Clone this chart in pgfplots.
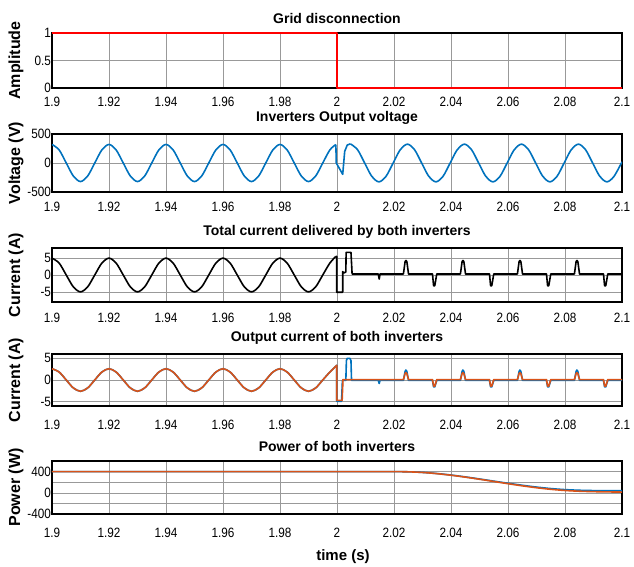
\documentclass[border=0pt]{standalone}
\usepackage{fontspec}
\setmainfont{Liberation Sans}
\newfontfamily\ticksfont[FakeStretch=0.87]{Liberation Sans}
\usepackage{pgfplots}
\pgfplotsset{compat=1.18}
\definecolor{mblue}{RGB}{0,114,189}
\definecolor{morange}{RGB}{217,83,25}

\pgfplotsset{
  panel/.style={
    scale only axis, width=570pt, anchor=north west,
    xmin=1.9, xmax=2.1,
    xtick={1.9,1.92,1.94,1.96,1.98,2,2.02,2.04,2.06,2.08,2.1},
    xticklabels={1.9,1.92,1.94,1.96,1.98,2,2.02,2.04,2.06,2.08,2.1},
    grid=major, major grid style={line width=0.6pt, black!40},
    axis line style={line width=1.4pt},
    major tick length=0pt,
    tick label style={font=\ticksfont\fontsize{13.5}{13.5}\selectfont},
    yticklabel style={xshift=2.5pt},
    /pgf/number format/assume math mode=true,
    title style={font=\bfseries\fontsize{14}{14}\selectfont},
    every axis y label/.style={at={(axis description cs:-0.063,0.5)}, rotate=90,
      anchor=center, font=\bfseries\fontsize{16}{16}\selectfont},
    every axis plot/.append style={line width=1.6pt, line join=round},
  },
}

\begin{document}
\begin{tikzpicture}
\useasboundingbox (0,0) rectangle (634pt,-567pt);

% grid disconnection signal
\begin{axis}[panel, at={(52pt,-33pt)}, height=55pt,
  ymin=0, ymax=1, ytick={0,0.5,1}, yticklabels={0,0.5,1},
  clip=false, xticklabel style={yshift=-6pt},
  title={Grid disconnection}, ylabel={Amplitude}]
\addplot[red] coordinates {(1.9,1)(2.0,1)(2.0,0)(2.1,0)};
\end{axis}

% inverter output voltage
\begin{axis}[panel, at={(52pt,-134pt)}, height=58pt,
  ymin=-500, ymax=500, ytick={-500,0,500}, yticklabels={-500,0,500},
  xticklabel style={yshift=-6.5pt},
  title={Inverters Output voltage}, ylabel={Voltage (V)}]
\addplot[mblue, smooth] coordinates {
(1.9,320)(1.9025,226)(1.905,0)(1.9075,-226)(1.91,-320)(1.9125,-226)(1.915,0)(1.9175,226)
(1.92,320)(1.9225,226)(1.925,0)(1.9275,-226)(1.93,-320)(1.9325,-226)(1.935,0)(1.9375,226)
(1.94,320)(1.9425,226)(1.945,0)(1.9475,-226)(1.95,-320)(1.9525,-226)(1.955,0)(1.9575,226)
(1.96,320)(1.9625,226)(1.965,0)(1.9675,-226)(1.97,-320)(1.9725,-226)(1.975,0)(1.9775,226)
(1.98,320)(1.9825,226)(1.985,0)(1.9875,-226)(1.99,-320)(1.9925,-226)(1.995,0)(1.9975,226)(1.9996,318)};
\addplot[mblue] coordinates {
(1.9996,318)(1.99975,0)(2.002,-195)(2.0027,200)(2.0036,310)(2.0047,330)};
\addplot[mblue, smooth] coordinates {
(2.0047,330)(2.0072,230)(2.0097,0)(2.0122,-230)(2.0147,-325)(2.0172,-230)(2.0197,0)(2.0222,230)
(2.0247,325)(2.0272,230)(2.0297,0)(2.0322,-230)(2.0347,-325)(2.0372,-230)(2.0397,0)(2.0422,230)
(2.0447,325)(2.0472,230)(2.0497,0)(2.0522,-230)(2.0547,-325)(2.0572,-230)(2.0597,0)(2.0622,230)
(2.0647,325)(2.0672,230)(2.0697,0)(2.0722,-230)(2.0747,-325)(2.0772,-230)(2.0797,0)(2.0822,230)
(2.0847,325)(2.0872,230)(2.0897,0)(2.0922,-230)(2.0947,-325)(2.0972,-230)(2.1,20)};
\end{axis}

% total current
\begin{axis}[panel, at={(52pt,-248pt)}, height=54pt,
  ymin=-8, ymax=8, ytick={-5,0,5}, yticklabels={-5,0,5},
  xticklabel style={yshift=-8pt},
  title={Total current delivered by both inverters}, ylabel={Current (A)}]
\addplot[black, smooth] coordinates {
(1.9,5)(1.9025,3.54)(1.905,0)(1.9075,-3.54)(1.91,-5)(1.9125,-3.54)(1.915,0)(1.9175,3.54)
(1.92,5)(1.9225,3.54)(1.925,0)(1.9275,-3.54)(1.93,-5)(1.9325,-3.54)(1.935,0)(1.9375,3.54)
(1.94,5)(1.9425,3.54)(1.945,0)(1.9475,-3.54)(1.95,-5)(1.9525,-3.54)(1.955,0)(1.9575,3.54)
(1.96,5)(1.9625,3.54)(1.965,0)(1.9675,-3.54)(1.97,-5)(1.9725,-3.54)(1.975,0)(1.9775,3.54)
(1.98,5)(1.9825,3.54)(1.985,0)(1.9875,-3.54)(1.99,-5)(1.9925,-3.54)(1.995,0)(1.9975,3.54)(1.9996,5.5)};
\addplot[black] coordinates {
(1.9996,5.5)(1.9999,5.5)(1.9999,-5.1)(2.002,-5.1)(2.002,1.0)(2.0024,0.6)(2.0031,0.9)
(2.0032,6.7)(2.0049,6.7)(2.0053,0.3)(2.0145,0.3)(2.0148,-1.2)(2.0151,0.3)
(2.0233,0.3)(2.0239,4.0)(2.0242,4.3)(2.0245,4.0)(2.0251,0.3)
(2.0335,0.3)(2.0339,-3.2)(2.0343,-3.2)(2.0350,0.3)
(2.0433,0.3)(2.0439,4.0)(2.0442,4.3)(2.0445,4.0)(2.0451,0.3)
(2.0535,0.3)(2.0539,-3.2)(2.0543,-3.2)(2.0550,0.3)
(2.0633,0.3)(2.0639,4.0)(2.0642,4.3)(2.0645,4.0)(2.0651,0.3)
(2.0735,0.3)(2.0739,-3.2)(2.0743,-3.2)(2.0750,0.3)
(2.0833,0.3)(2.0839,4.0)(2.0842,4.3)(2.0845,4.0)(2.0851,0.3)
(2.0935,0.3)(2.0939,-3.2)(2.0943,-3.2)(2.0950,0.3)(2.1,0.3)};
\end{axis}

% output current of each inverter
\begin{axis}[panel, at={(52pt,-354pt)}, height=52pt,
  ymin=-6, ymax=6, ytick={-5,0,5}, yticklabels={-5,0,5},
  xticklabel style={yshift=-10.5pt},
  title={Output current of both inverters}, ylabel={Current (A)}]
\addplot[mblue, smooth] coordinates {
(1.9,2.6)(1.9025,1.84)(1.905,0)(1.9075,-1.84)(1.91,-2.6)(1.9125,-1.84)(1.915,0)(1.9175,1.84)
(1.92,2.6)(1.9225,1.84)(1.925,0)(1.9275,-1.84)(1.93,-2.6)(1.9325,-1.84)(1.935,0)(1.9375,1.84)
(1.94,2.6)(1.9425,1.84)(1.945,0)(1.9475,-1.84)(1.95,-2.6)(1.9525,-1.84)(1.955,0)(1.9575,1.84)
(1.96,2.6)(1.9625,1.84)(1.965,0)(1.9675,-1.84)(1.97,-2.6)(1.9725,-1.84)(1.975,0)(1.9775,1.84)
(1.98,2.6)(1.9825,1.84)(1.985,0)(1.9875,-1.84)(1.99,-2.6)(1.9925,-1.84)(1.995,0)(1.9975,1.84)(1.9996,3.2)};
\addplot[mblue] coordinates {
(1.9996,3.2)(1.9999,3.4)(1.9999,-4.9)(2.0016,-4.9)(2.0019,-0.1)(2.0031,-0.1)
(2.0033,4.5)(2.0036,5.0)(2.0045,5.0)(2.0049,4.5)(2.0051,-0.1)
(2.0145,-0.1)(2.0148,-0.8)(2.0151,-0.1)
(2.0233,-0.1)(2.0239,2.0)(2.0242,2.3)(2.0245,2.0)(2.0251,-0.1)
(2.0335,-0.1)(2.0339,-1.6)(2.0343,-1.6)(2.0350,-0.1)
(2.0433,-0.1)(2.0439,2.0)(2.0442,2.3)(2.0445,2.0)(2.0451,-0.1)
(2.0535,-0.1)(2.0539,-1.6)(2.0543,-1.6)(2.0550,-0.1)
(2.0633,-0.1)(2.0639,2.0)(2.0642,2.3)(2.0645,2.0)(2.0651,-0.1)
(2.0735,-0.1)(2.0739,-1.6)(2.0743,-1.6)(2.0750,-0.1)
(2.0833,-0.1)(2.0839,2.0)(2.0842,2.3)(2.0845,2.0)(2.0851,-0.1)
(2.0935,-0.1)(2.0939,-1.6)(2.0943,-1.6)(2.0950,-0.1)(2.1,-0.1)};
\addplot[morange, smooth] coordinates {
(1.9,2.6)(1.9025,1.84)(1.905,0)(1.9075,-1.84)(1.91,-2.6)(1.9125,-1.84)(1.915,0)(1.9175,1.84)
(1.92,2.6)(1.9225,1.84)(1.925,0)(1.9275,-1.84)(1.93,-2.6)(1.9325,-1.84)(1.935,0)(1.9375,1.84)
(1.94,2.6)(1.9425,1.84)(1.945,0)(1.9475,-1.84)(1.95,-2.6)(1.9525,-1.84)(1.955,0)(1.9575,1.84)
(1.96,2.6)(1.9625,1.84)(1.965,0)(1.9675,-1.84)(1.97,-2.6)(1.9725,-1.84)(1.975,0)(1.9775,1.84)
(1.98,2.6)(1.9825,1.84)(1.985,0)(1.9875,-1.84)(1.99,-2.6)(1.9925,-1.84)(1.995,0)(1.9975,1.84)(1.9996,3.2)};
\addplot[morange] coordinates {
(1.9996,3.2)(1.9999,3.4)(1.9999,-4.7)(2.0018,-4.7)(2.0021,0.1)
(2.0233,0.1)(2.0239,1.5)(2.0242,1.7)(2.0245,1.5)(2.0251,0.1)
(2.0335,0.1)(2.0339,-1.4)(2.0343,-1.4)(2.0350,0.1)
(2.0433,0.1)(2.0439,1.5)(2.0442,1.7)(2.0445,1.5)(2.0451,0.1)
(2.0535,0.1)(2.0539,-1.4)(2.0543,-1.4)(2.0550,0.1)
(2.0633,0.1)(2.0639,1.5)(2.0642,1.7)(2.0645,1.5)(2.0651,0.1)
(2.0735,0.1)(2.0739,-1.4)(2.0743,-1.4)(2.0750,0.1)
(2.0833,0.1)(2.0839,1.5)(2.0842,1.7)(2.0845,1.5)(2.0851,0.1)
(2.0935,0.1)(2.0939,-1.4)(2.0943,-1.4)(2.0950,0.1)(2.1,0.1)};
\end{axis}

% power of both inverters
\begin{axis}[panel, at={(52pt,-461pt)}, height=53pt,
  ymin=-400, ymax=600, ytick={-400,-200,0,200,400},
  yticklabels={-400,,0,,400},
  xticklabel style={yshift=-10.5pt},
  title={Power of both inverters}, ylabel={Power (W)},
  xlabel={time (s)},
  xlabel style={at={(axis description cs:0.5,0)}, anchor=center,
    yshift=-43pt, xshift=6pt, font=\bfseries\fontsize{15}{15}\selectfont}]
\addplot[mblue, smooth] coordinates {
(1.9,400)(2.015,400)(2.02,400)(2.025,396)(2.03,385)(2.035,364)(2.04,335)(2.045,300)
(2.05,261)(2.055,220)(2.06,180)(2.065,142)(2.07,108)(2.075,80)(2.08,60)(2.085,48)
(2.09,42)(2.095,40)(2.1,38)};
\addplot[morange, smooth] coordinates {
(1.9,400)(2.015,400)(2.02,400)(2.025,396)(2.03,384)(2.035,362)(2.04,332)(2.045,296)
(2.05,256)(2.055,214)(2.06,172)(2.065,132)(2.07,96)(2.075,66)(2.08,44)(2.085,30)
(2.09,22)(2.095,17)(2.1,14)};
\end{axis}
\end{tikzpicture}
\end{document}
